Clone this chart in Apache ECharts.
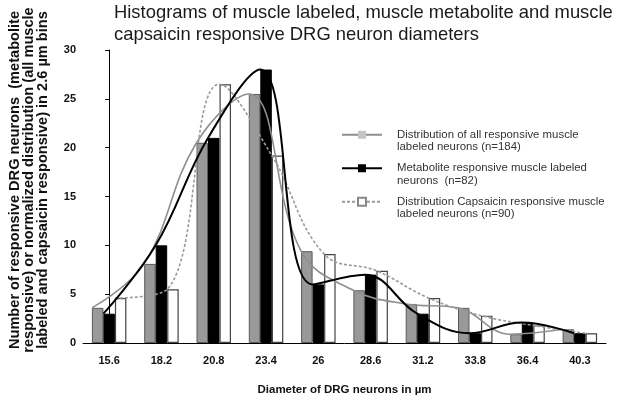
<!DOCTYPE html>
<html>
<head>
<meta charset="utf-8">
<script src="https://cdn.jsdelivr.net/npm/echarts@6/dist/echarts.min.js"></script>
<style>
html,body{margin:0;padding:0;background:#fff;}
#main{width:640px;height:401px;}
</style>
</head>
<body>
<div id="main"></div>
<script>
// Data
var categories = ['15.6','18.2','20.8','23.4','26','28.6','31.2','33.8','36.4','40.3'];
var allValues        = [3.6, 8.1, 20.5, 25.5, 9.4, 5.4, 4.0, 3.6, 0.9, 1.4];
var metaboliteValues = [3.0, 10.0, 21.0, 28.0, 6.0, 7.0, 3.0, 1.0, 2.1, 1.0];
var capsaicinValues  = [4.6, 5.5, 26.5, 19.2, 9.1, 7.4, 4.6, 2.8, 1.8, 1.0];
var yTicks = {min: 0, max: 30, interval: 5};

var nameAll = 'Distribution of all responsive muscle\nlabeled neurons (n=184)';
var nameMet = 'Metabolite responsive muscle labeled\nneurons  (n=82)';
var nameCap = 'Distribution Capsaicin responsive muscle\nlabeled neurons (n=90)';

// line points sit at the top-left corner of their own bar (bar = 0.22 of a category)
var bw = 0.22;
function pts(vals, off){ return vals.map(function(v,i){ return [i + off, v]; }); }

var chart = echarts.init(document.getElementById('main'));
var font = 'Liberation Sans, Arial, sans-serif';
chart.setOption({
  animation: false,
  textStyle: {fontFamily: font},
  title: {
    text: 'Histograms of muscle labeled, muscle metabolite and muscle\ncapsaicin responsive DRG neuron diameters',
    left: 114, top: 2, padding: 0,
    textStyle: {fontSize: 18.4, fontWeight: 'normal', color: '#1a1a1a', lineHeight: 22, fontFamily: font}
  },
  legend: {
    orient: 'vertical', left: 341, top: 116, padding: 0,
    itemWidth: 40, itemHeight: 10, itemGap: -4,
    data: [nameAll, nameMet, nameCap],
    formatter: function(n){ return '\n' + n; },
    textStyle: {fontSize: 11.4, color: '#333', lineHeight: 12.5, padding: [0, 0, 0, 10], fontFamily: font}
  },
  grid: {left: 83, right: 34, top: 50, bottom: 58, containLabel: false, outerBoundsMode: 'none'},
  xAxis: [{
    type: 'category', data: categories, boundaryGap: true,
    name: 'Diameter of DRG neurons in µm', nameLocation: 'middle', nameGap: 41,
    nameTextStyle: {fontSize: 11.5, fontWeight: 'bold', color: '#111'},
    axisLine: {lineStyle: {color: '#000', width: 1}},
    axisTick: {length: 4, lineStyle: {color: '#000'}},
    axisLabel: {fontSize: 11, fontWeight: 'bold', color: '#111', margin: 12}
  }, {
    type: 'value', min: -0.5, max: 9.5, show: false
  }],
  yAxis: {
    type: 'value', min: yTicks.min, max: yTicks.max, interval: yTicks.interval,
    name: 'Number of responsive DRG neurons  (metabolite\nresponsive) or normalized distribution (all muscle\nlabeled and capsaicin responsive) in 2.6 µm bins',
    nameLocation: 'middle', nameGap: 33, nameRotate: 90,
    nameTextStyle: {fontSize: 14.6, fontWeight: 'bold', color: '#111', lineHeight: 14, align: 'center', padding: [0, 0, 0, 33]},
    axisLine: {show: true, lineStyle: {color: '#000', width: 1}},
    axisTick: {show: true, length: 4, lineStyle: {color: '#000'}},
    splitLine: {show: false},
    axisLabel: {fontSize: 11, fontWeight: 'bold', color: '#111', margin: 7}
  },
  series: [
    {name: 'bars-all', type: 'bar', data: allValues, barWidth: 11.5, barGap: '0%',
     itemStyle: {color: '#999999', borderColor: '#5a5a5a', borderWidth: 1}},
    {name: 'bars-met', type: 'bar', data: metaboliteValues, barWidth: 11.5, barGap: '0%',
     itemStyle: {color: '#000000', borderColor: '#000', borderWidth: 1}},
    {name: 'bars-cap', type: 'bar', data: capsaicinValues, barWidth: 11.5, barGap: '0%',
     itemStyle: {color: '#ffffff', borderColor: '#444', borderWidth: 1.2}},
    {name: nameAll, type: 'line', xAxisIndex: 1, data: pts(allValues, -1.5*bw), smooth: 0.4,
     symbol: 'rect', symbolSize: 10, showSymbol: false, z: 5,
     lineStyle: {color: '#8f8f8f', width: 1.6},
     itemStyle: {color: '#c4c4c4', borderColor: '#c4c4c4'}},
    {name: nameMet, type: 'line', xAxisIndex: 1, data: pts(metaboliteValues, -0.5*bw), smooth: 0.4,
     symbol: 'rect', symbolSize: 10, showSymbol: false, z: 6,
     lineStyle: {color: '#000', width: 2},
     itemStyle: {color: '#000', borderColor: '#000'}},
    {name: nameCap, type: 'line', xAxisIndex: 1, data: pts(capsaicinValues, 0.5*bw), smooth: 0.4,
     symbol: 'rect', symbolSize: 10, showSymbol: false, z: 5,
     lineStyle: {color: '#9a9a9a', width: 1.6, type: [3, 2]},
     itemStyle: {color: '#fff', borderColor: '#888', borderWidth: 1}}
  ]
});
</script>
</body>
</html>
